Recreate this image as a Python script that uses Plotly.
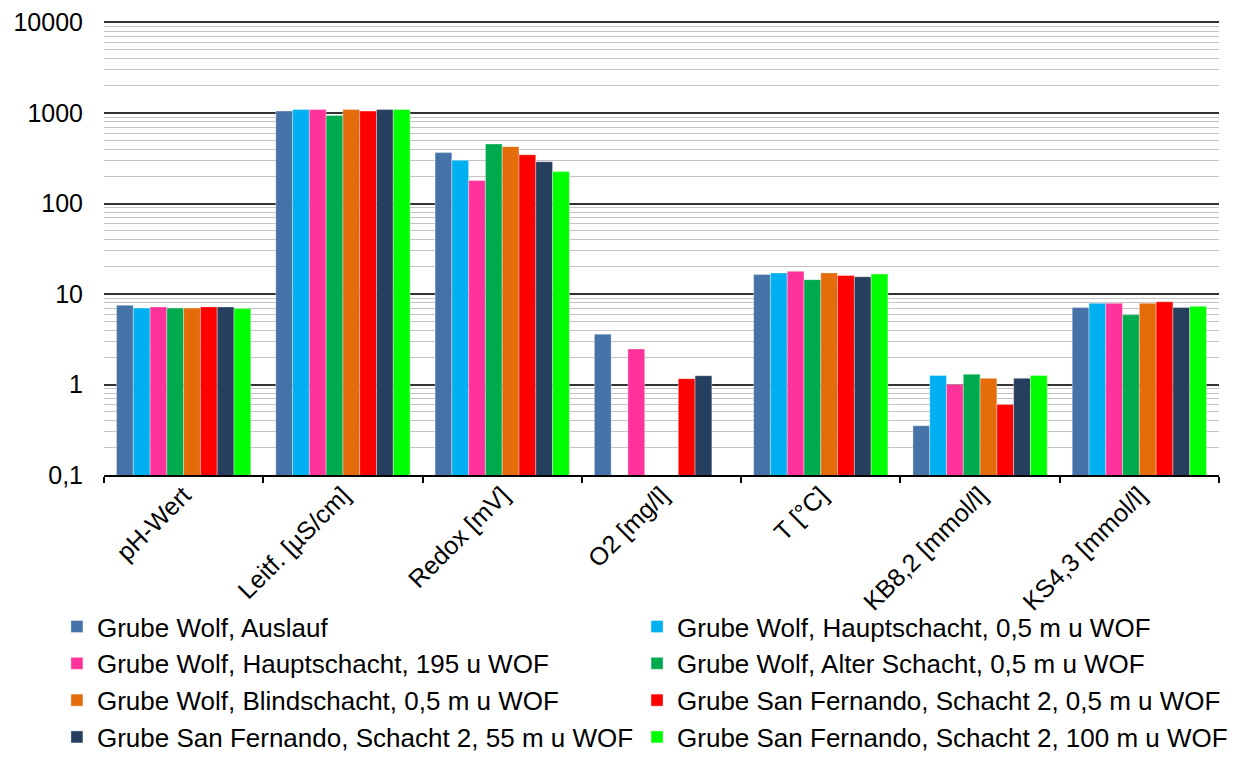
import plotly.graph_objects as go

CATEGORIES = ["pH-Wert", "Leitf. [µS/cm]", "Redox [mV]", "O2 [mg/l]", "T [°C]",
              "KB8,2 [mmol/l]", "KS4,3 [mmol/l]"]

SERIES_NAMES = [
    "Grube Wolf, Auslauf",
    "Grube Wolf, Hauptschacht, 0,5 m u WOF",
    "Grube Wolf, Hauptschacht, 195 u WOF",
    "Grube Wolf, Alter Schacht, 0,5 m u WOF",
    "Grube Wolf, Blindschacht, 0,5 m u WOF",
    "Grube San Fernando, Schacht 2, 0,5 m u WOF",
    "Grube San Fernando, Schacht 2, 55 m u WOF",
    "Grube San Fernando, Schacht 2, 100 m u WOF",
]

COLORS = ["#4573a7", "#00b0f0", "#ff3399", "#00aa4f", "#e46c0a", "#ff0000",
          "#263f5f", "#00ff00"]

wolf_auslauf = [7.5, 1050, 365, 3.6, 16.4, 0.35, 7.1]
wolf_haupt_05 = [7.0, 1090, 300, None, 17.1, 1.26, 7.9]
wolf_haupt_195 = [7.2, 1090, 180, 2.47, 17.8, 1.0, 7.9]
wolf_alter_05 = [7.0, 940, 455, None, 14.4, 1.30, 5.9]
wolf_blind_05 = [7.0, 1090, 425, None, 17.1, 1.17, 7.9]
sanf_s2_05 = [7.2, 1050, 345, 1.16, 16.0, 0.60, 8.2]
sanf_s2_55 = [7.2, 1090, 290, 1.25, 15.5, 1.17, 7.1]
sanf_s2_100 = [6.9, 1090, 225, None, 16.6, 1.26, 7.3]

SERIES_VALUES = [wolf_auslauf, wolf_haupt_05, wolf_haupt_195, wolf_alter_05,
                 wolf_blind_05, sanf_s2_05, sanf_s2_55, sanf_s2_100]

Y_TICKS = [0.1, 1, 10, 100, 1000, 10000]
Y_TICK_TEXT = ["0,1", "1", "10", "100", "1000", "10000"]

FONT = "Liberation Sans, Arial, sans-serif"

fig = go.Figure()
for i, (name, vals, color) in enumerate(zip(SERIES_NAMES, SERIES_VALUES, COLORS)):
    fig.add_trace(
        go.Bar(
            x=CATEGORIES,
            y=vals,
            name=name,
            legend="legend" if i % 2 == 0 else "legend2",
            marker={"color": color, "line": {"width": 0.6, "color": "rgba(255,255,255,0.6)"}},
        )
    )

legend_common = {
    "orientation": "v",
    "xref": "container",
    "yref": "container",
    "y": 0.219,
    "xanchor": "left",
    "yanchor": "top",
    "font": {"family": FONT, "size": 26, "color": "black"},
    "traceorder": "normal",
    "bgcolor": "rgba(0,0,0,0)",
}

# the page body adds an 8px offset, margins are set to compensate
fig.update_layout(
    width=1239,
    height=762,
    paper_bgcolor="white",
    plot_bgcolor="white",
    barmode="group",
    bargap=0.157,
    bargroupgap=0,
    font={"family": FONT, "size": 24, "color": "black"},
    margin={"l": 96, "r": 28, "t": 12.5, "b": 295, "autoexpand": False},
    showlegend=True,
    legend={**legend_common, "x": 0.0395},
    legend2={**legend_common, "x": 0.5077},
)

fig.update_xaxes(
    type="category",
    showline=True,
    linecolor="black",
    linewidth=1.5,
    ticks="outside",
    tickson="boundaries",
    ticklen=6,
    tickcolor="black",
    tickwidth=1.5,
    tickangle=-45,
    tickfont={"size": 25},
    ticklabelstandoff=-6,
    showgrid=False,
)

# small headroom above 10000 so the top gridline is not clipped at the edge
fig.update_yaxes(
    type="log",
    range=[-1, 4.0165],
    tickvals=Y_TICKS,
    ticktext=Y_TICK_TEXT,
    tickfont={"size": 25},
    ticklabelstandoff=20,
    ticklabeloverflow="allow",
    showgrid=True,
    gridcolor="#333333",
    gridwidth=1.5,
    showline=False,
    zeroline=False,
    minor={"dtick": "D1", "showgrid": True, "gridcolor": "#c4c4c4", "gridwidth": 1.3},
)

fig.write_html("out.html")
